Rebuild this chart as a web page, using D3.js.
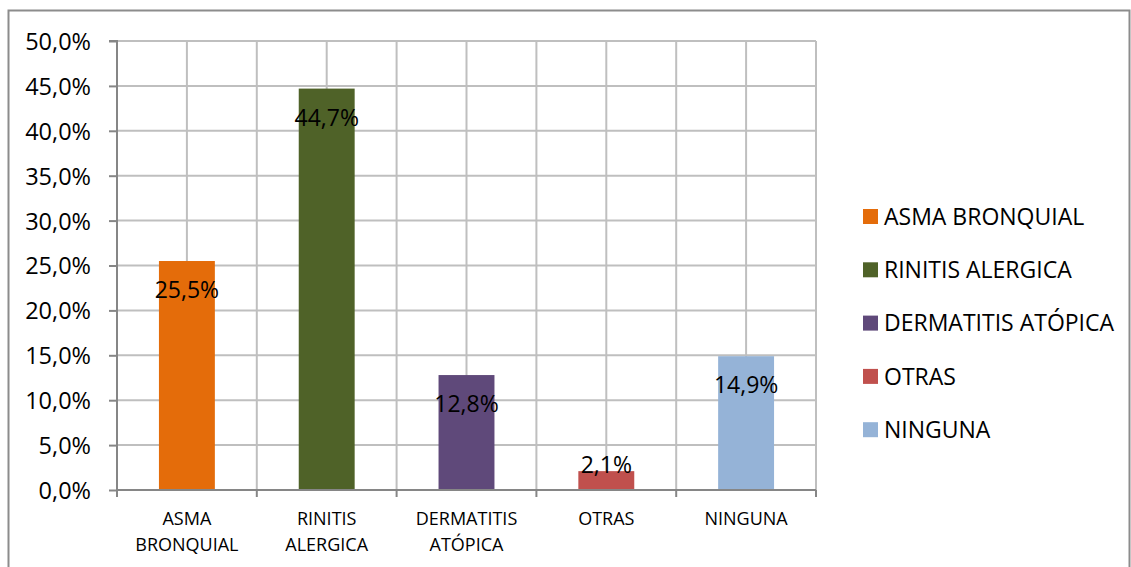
<!DOCTYPE html>
<html>
<head>
<meta charset="utf-8">
<script src="https://cdn.jsdelivr.net/npm/d3@7"></script>
<style>
  html, body { margin: 0; padding: 0; background: #fff; }
  svg { display: block; font-family: "Open Sans", "Noto Sans", sans-serif; }
</style>
</head>
<body>
<svg id="chart" width="1131" height="567"></svg>
<script>
// Enfermedades alérgicas: porcentaje por categoría
const categories = ["ASMA BRONQUIAL", "RINITIS ALERGICA", "DERMATITIS ATÓPICA", "OTRAS", "NINGUNA"];
const axisLabels = [["ASMA", "BRONQUIAL"], ["RINITIS", "ALERGICA"], ["DERMATITIS", "ATÓPICA"], ["OTRAS"], ["NINGUNA"]];
const values = [25.5, 44.7, 12.8, 2.1, 14.9];
const colors = ["#E46C0A", "#4F6228", "#5F497A", "#C0504D", "#95B3D7"];
const yTicks = [0, 5, 10, 15, 20, 25, 30, 35, 40, 45, 50];

const es = d3.formatLocale({ decimal: ",", thousands: ".", grouping: [3], currency: ["", "€"] });
const fmt = v => es.format(".1f")(v) + "%";

const svg = d3.select("#chart");
const plot = { left: 117, right: 816, top: 41, bottom: 490 };

// outer chart frame
svg.append("rect")
  .attr("x", 8.5).attr("y", 10.5)
  .attr("width", 1121).attr("height", 580)
  .attr("fill", "#fff").attr("stroke", "#8c8c8c").attr("stroke-width", 2);

const x = d3.scaleBand()
  .domain(categories)
  .range([plot.left, plot.right])
  .paddingInner(0.6)
  .paddingOuter(0.3);

const y = d3.scaleLinear().domain([0, 50]).range([plot.bottom, plot.top]);

const step = x.step();
const center = c => x(c) + x.bandwidth() / 2;

// horizontal gridlines
svg.append("g").selectAll("line").data(yTicks.slice(1)).join("line")
  .attr("x1", plot.left).attr("x2", plot.right)
  .attr("y1", d => y(d)).attr("y2", d => y(d))
  .attr("stroke", "#BFBFBF").attr("stroke-width", 2);

// vertical gridlines: category boundaries and centres
const vLines = [];
categories.forEach(c => { vLines.push(center(c)); vLines.push(center(c) + step / 2); });
svg.append("g").selectAll("line").data(vLines).join("line")
  .attr("x1", d => d).attr("x2", d => d)
  .attr("y1", plot.top).attr("y2", plot.bottom)
  .attr("stroke", "#BFBFBF").attr("stroke-width", 2);

// bars
svg.append("g").selectAll("rect").data(categories).join("rect")
  .attr("x", d => x(d))
  .attr("width", x.bandwidth())
  .attr("y", (d, i) => y(values[i]))
  .attr("height", (d, i) => y(0) - y(values[i]))
  .attr("fill", (d, i) => colors[i]);

// y axis
const yAxis = d3.axisLeft(y).tickValues(yTicks).tickFormat(fmt).tickSize(8).tickPadding(18);
const gy = svg.append("g").attr("transform", `translate(${plot.left},0)`).call(yAxis);
gy.select(".domain").attr("stroke", "#868686").attr("stroke-width", 2).attr("d", `M-8,${plot.top}H0V${plot.bottom}`);
gy.selectAll(".tick line").attr("stroke", "#868686").attr("stroke-width", 2);
gy.selectAll(".tick text").attr("fill", "#000").style("font-size", "23.5px").style("font-family", "'Open Sans', sans-serif").attr("dy", "0.36em");

// x axis line and ticks at category boundaries
svg.append("line")
  .attr("x1", plot.left).attr("x2", plot.right)
  .attr("y1", plot.bottom).attr("y2", plot.bottom)
  .attr("stroke", "#868686").attr("stroke-width", 2);
const bounds = [center(categories[0]) - step / 2].concat(categories.map(c => center(c) + step / 2));
svg.append("g").selectAll("line").data(bounds).join("line")
  .attr("x1", d => d).attr("x2", d => d)
  .attr("y1", plot.bottom).attr("y2", plot.bottom + 7)
  .attr("stroke", "#868686").attr("stroke-width", 2);

// category labels
const catG = svg.append("g").selectAll("text").data(categories).join("text")
  .attr("text-anchor", "middle")
  .attr("fill", "#000")
  .style("font-size", "18px");
catG.each(function (d, i) {
  d3.select(this).selectAll("tspan").data(axisLabels[i]).join("tspan")
    .attr("x", center(d))
    .attr("y", (t, j) => 525 + j * 26)
    .text(t => t);
});

// data labels
svg.append("g").selectAll("text").data(categories).join("text")
  .attr("x", d => center(d))
  .attr("y", (d, i) => {
    const top = y(values[i]);
    const h = y(0) - top;
    return (h > 40 ? top + 29 : top - 6);
  })
  .attr("dy", "0.36em")
  .attr("text-anchor", "middle")
  .attr("fill", "#000")
  .style("font-size", "23px")
  .text((d, i) => fmt(values[i]));

// legend
const legend = svg.append("g").selectAll("g").data(categories).join("g")
  .attr("transform", (d, i) => `translate(863,${209 + i * 53.3})`);
legend.append("rect").attr("width", 15).attr("height", 15).attr("fill", (d, i) => colors[i]);
legend.append("text")
  .attr("x", 21).attr("y", 7.5).attr("dy", "0.36em")
  .attr("fill", "#000")
  .style("font-size", "23px")
  .text(d => d);
</script>
</body>
</html>
